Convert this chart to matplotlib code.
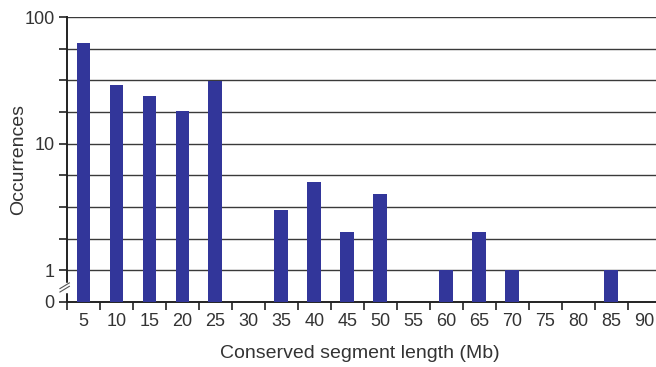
import numpy as np
import matplotlib.pyplot as plt

lengths = [5, 10, 15, 20, 25, 30, 35, 40, 45, 50, 55, 60, 65, 70, 75, 80, 85, 90]
occurrences = [62, 29, 24, 18, 31, 0, 3, 5, 2, 4, 0, 1, 2, 1, 0, 0, 1, 0]

plt.rcParams['font.family'] = ['Liberation Sans', 'DejaVu Sans']
text_col = '#333333'

fig = plt.figure(figsize=(6.56, 3.67), dpi=100)
ax = fig.add_axes([67 / 656, 1 - 302 / 367, 589 / 656, 285 / 367])

# log axis, bottom of the axis stands for "0"
ymin = 10 ** -0.25
ax.set_yscale('log')
ax.set_ylim(ymin, 100)
ax.set_xlim(-0.5, 17.36)

x = np.arange(len(lengths))
heights = np.array([v if v > 0 else np.nan for v in occurrences], dtype=float)
ax.bar(x, heights - ymin, bottom=ymin, width=0.42, color='#32369a', zorder=3)

# gridlines every quarter decade
grid_vals = [10 ** (k / 4) for k in range(-1, 9)]
for g in grid_vals[1:]:
    ax.axhline(g, color='#3a3a3a', lw=1.0, zorder=1)

ylabels = []
for k in range(-1, 9):
    if k == -1:
        ylabels.append('0')
    elif k % 4 == 0:
        ylabels.append(str(10 ** (k // 4)))
    else:
        ylabels.append('')
ax.minorticks_off()
ax.set_yticks(grid_vals)
ax.set_yticklabels(ylabels)

ax.set_xticks(np.arange(-0.5, 17.5, 1.0))
ax.set_xticklabels([])
ax.set_xticks(x, minor=True)
ax.set_xticklabels([str(v) for v in lengths], minor=True)
ax.tick_params(axis='x', which='minor', length=0, pad=8, labelsize=13, labelcolor=text_col)
ax.tick_params(axis='x', which='major', length=6, width=1.2, color='#222222', direction='out')
ax.tick_params(axis='y', length=6, width=1.2, color='#222222', labelsize=13,
               labelcolor=text_col, pad=3)

for s in ['top', 'right']:
    ax.spines[s].set_visible(False)
for s in ['left', 'bottom']:
    ax.spines[s].set_color('#222222')
    ax.spines[s].set_linewidth(1.4)

# axis break mark between 0 and 1
ax.plot([0, 0], [0.04, 0.062], transform=ax.transAxes, color='white', lw=2.5,
        clip_on=False, zorder=4)
for dy in (0.0, 0.012):
    ax.plot([-0.012, 0.004], [0.035 + dy, 0.055 + dy], transform=ax.transAxes,
            color='#555555', lw=0.8, clip_on=False, zorder=5)

ax.set_xlabel('Conserved segment length (Mb)', fontsize=14, color=text_col)
ax.xaxis.set_label_coords((360 - 67) / 589, -(345 - 302) / 285)
ax.set_ylabel('Occurrences', fontsize=14, color=text_col)
ax.yaxis.set_label_coords((27 - 67) / 589, 0.5)

fig.savefig('out.png', dpi=100)
